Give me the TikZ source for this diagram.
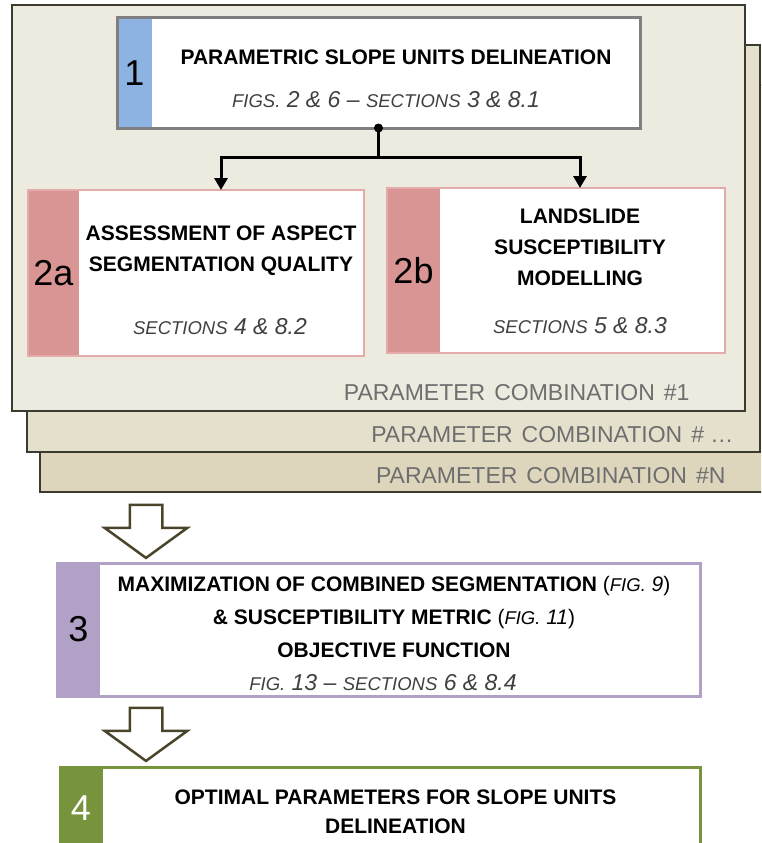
\documentclass[tikz,border=0pt]{standalone}
\usepackage{fontspec}
\setmainfont{Liberation Sans}
\usetikzlibrary{shapes.arrows,arrows.meta}
\definecolor{lay1}{HTML}{EDEADF}
\definecolor{lay2}{HTML}{E5E0CC}
\definecolor{lay3}{HTML}{DDD6BD}
\definecolor{edge}{HTML}{3A3A30}
\definecolor{blu}{HTML}{8DB3E2}
\definecolor{rosa}{HTML}{D99594}
\definecolor{rosaline}{HTML}{E3ABAA}
\definecolor{lila}{HTML}{B2A1C7}
\definecolor{olive}{HTML}{77933C}
\definecolor{khaki}{HTML}{4A452A}
\definecolor{greyline}{HTML}{7F7F7F}
\definecolor{greytext}{HTML}{6E6E6E}
\newcommand{\capsm}[1]{{\fontsize{18.5}{20}\selectfont #1}}
\begin{document}
\begin{tikzpicture}[x=1pt,y=-1pt,
  band/.style 2 args={path picture={\fill[#1] (path picture bounding box.north west) rectangle ([xshift=#2]path picture bounding box.south west);}}]
% workflow: slope units parameter optimisation
\tikzstyle{layer} = [rectangle, draw=edge, line width=1.5pt, outer sep=0pt, minimum width=733pt, minimum height=407pt]
\tikzstyle{box} = [rectangle, fill=white, outer sep=0pt, inner sep=0pt]
\tikzstyle{num} = [font=\fontsize{36}{36}\selectfont]
\tikzstyle{title} = [font=\fontsize{21}{31}\selectfont\bfseries, align=center]
\tikzstyle{sub} = [font=\fontsize{23}{26}\selectfont\itshape, text=black!75]
\tikzstyle{combo} = [font=\fontsize{23}{23}\selectfont, text=greytext, anchor=east]
\tikzstyle{conn} = [line width=3pt]
\tikzstyle{hollow} = [single arrow, draw=khaki, fill=white, line width=2.5pt, rotate=-90, minimum height=53pt, minimum width=80pt, single arrow head extend=25pt, single arrow tip angle=108, inner xsep=0pt, inner ysep=15pt]
\useasboundingbox (0,0) rectangle (761,843);
\clip (0,0) rectangle (761,843);

\node[layer, fill=lay3] (L3) at (406.5,288.5) {};
\node[layer, fill=lay2] (L2) at (393.5,248.5) {};
\node[layer, fill=lay1, minimum height=406pt] (L1) at (378.5,208) {};
\node[combo] (c3) at (729,476) {PARAMETER\hspace{9pt}COMBINATION\hspace{9pt}\#N};
\node[combo] (c2) at (737,435) {PARAMETER\hspace{9pt}COMBINATION\hspace{9pt}\# \dots};
\node[combo] (c1) at (693,393) {PARAMETER\hspace{9pt}COMBINATION\hspace{9pt}\#1};

\node[box, draw=greyline, line width=3pt, band={blu}{35pt}, minimum width=523pt, minimum height=110pt] (b1) at (378.5,73) {};
\node[num] (n1) at ([xshift=17.5pt]b1.west) {1};
\node[title] (t1) at (396,57) {PARAMETRIC SLOPE UNITS DELINEATION};
\node[sub] (s1) at (386,100) {\capsm{FIGS.} 2 \& 6 – \capsm{SECTIONS} 3 \& 8.1};

\node[box, draw=rosaline, line width=2pt, band={rosa}{51pt}, minimum width=336pt, minimum height=166pt] (b2a) at (196,273) {};
\node[num] (n2a) at ([xshift=25.5pt]b2a.west) {2a};
\node[title] (t2a) at (221,250.5) {ASSESSMENT OF ASPECT\\SEGMENTATION QUALITY};
\node[sub] (s2a) at (220,327) {\capsm{SECTIONS} 4 \& 8.2};

\node[box, draw=rosaline, line width=2pt, band={rosa}{53pt}, minimum width=338pt, minimum height=165pt] (b2b) at (556,270.5) {};
\node[num] (n2b) at ([xshift=26.5pt]b2b.west) {2b};
\node[title] (t2b) at (580,247) {LANDSLIDE\\SUSCEPTIBILITY\\MODELLING};
\node[sub] (s2b) at (580,326) {\capsm{SECTIONS} 5 \& 8.3};

\fill (b1.south) circle (4.5);
\draw[conn] (b1.south) -- ++(0,29) coordinate (fork);
\draw[conn, -{Triangle[width=13pt,length=12pt]}] (fork) -| (t2a |- b2a.north);
\draw[conn, -{Triangle[width=13pt,length=12pt]}] (fork) -| (t2b |- b2b.north);

\node[hollow] (a1) at (146,525.5) {};

\node[box, draw=lila, line width=3pt, band={lila}{43pt}, minimum width=643pt, minimum height=133pt] (b3) at (378.5,629.5) {};
\node[num] (n3) at ([xshift=21.5pt]b3.west) {3};
\node[title, font=\fontsize{21}{33}\selectfont\bfseries] (t3) at (394,617) {MAXIMIZATION OF COMBINED SEGMENTATION {\mdseries(\textit{\capsm{FIG.} 9})}\\
  \& SUSCEPTIBILITY METRIC {\mdseries(\textit{\capsm{FIG.} 11})}\\OBJECTIVE FUNCTION};
\node[sub] (s3) at (383,683) {\capsm{FIG.} 13 – \capsm{SECTIONS} 6 \& 8.4};

\node[hollow] (a2) at (146,728.5) {};

\node[box, draw=olive, line width=3pt, band={olive}{43pt}, minimum width=640pt, minimum height=90pt] (b4) at (380,812) {};
\node[num, text=white] (n4) at (81,808) {4};
\node[title, font=\fontsize{21}{29}\selectfont\bfseries] (t4) at (395.5,811.5) {OPTIMAL PARAMETERS FOR SLOPE UNITS\\DELINEATION};
\end{tikzpicture}
\end{document}
